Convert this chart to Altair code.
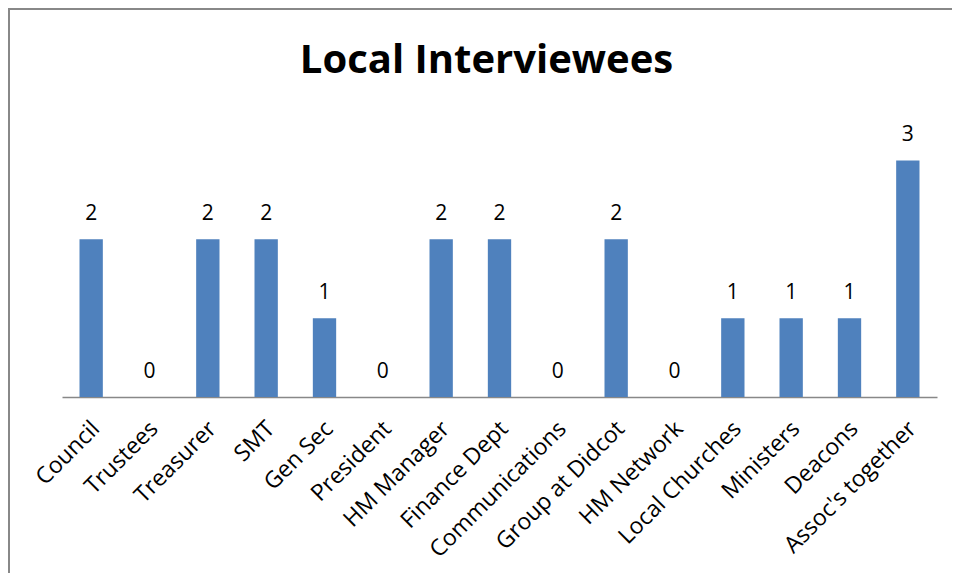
import altair as alt
import pandas as pd

categories = ["Council", "Trustees", "Treasurer", "SMT", "Gen Sec", "President",
              "HM Manager", "Finance Dept", "Communications", "Group at Didcot",
              "HM Network", "Local Churches", "Ministers", "Deacons", "Assoc's together"]
counts = [2, 0, 2, 2, 1, 0, 2, 2, 0, 2, 0, 1, 1, 1, 3]

df = pd.DataFrame({"category": categories, "count": counts})

FONT = "Open Sans"

x = alt.X("category:N", sort=categories,
          scale=alt.Scale(paddingInner=0.6, paddingOuter=0.3),
          axis=alt.Axis(title=None, labelAngle=-45, labelFont=FONT, labelFontSize=23,
                        labelColor="black", ticks=False, domainColor="#888888",
                        domainWidth=1.5, labelPadding=20, labelOffset=-3,
                        labelAlign="right", labelBaseline="top", labelLimit=400))
y = alt.Y("count:Q", scale=alt.Scale(domain=[0, 3.5], nice=False), axis=None)

bars = alt.Chart(df).mark_bar(color="#4F81BD", strokeWidth=0).encode(x=x, y=y)
labels = alt.Chart(df).mark_text(font=FONT, fontSize=21, color="black",
                                 baseline="alphabetic", dy=-19).encode(
    x=x, y=y, text="count:Q")

border = alt.Chart(df.head(1)).mark_rect(fill=None, stroke="#888888", strokeWidth=2).encode(
    x=alt.value(-53), x2=alt.value(2000), y=alt.value(-112), y2=alt.value(2000))

chart = alt.layer(border, bars, labels).properties(
    width=875, height=276,
    title=alt.TitleParams("Local Interviewees", font=FONT, fontSize=40, fontWeight="bold",
                          color="black", anchor="middle", dx=-13, offset=-105,
                          baseline="alphabetic"),
    padding={"left": 54, "top": 113, "right": 15, "bottom": 176},
    autosize=alt.AutoSizeParams(type="none"),
).configure(background="white", view=alt.ViewConfig(stroke="transparent", strokeWidth=0))

chart.save("out.html", embed_options={"renderer": "svg", "actions": False})
